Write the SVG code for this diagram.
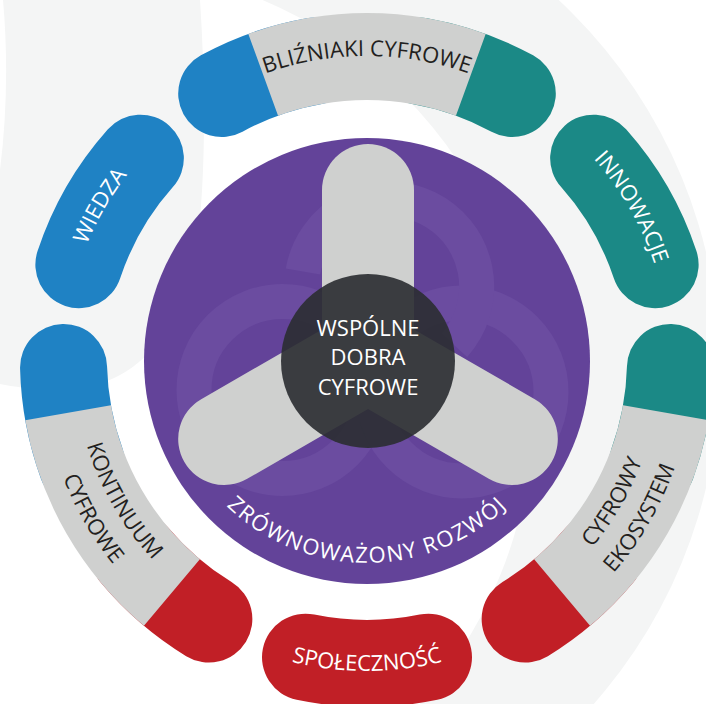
<svg xmlns="http://www.w3.org/2000/svg" width="706" height="704" viewBox="0 0 706 704">
<style>
 .seg{fill:none;stroke-width:87}
 .cap{stroke-linecap:round}
 .blue{stroke:#1f82c4}
 .teal{stroke:#1b8986}
 .red{stroke:#c11f26}
 .gray{stroke:#cfd0cf}
 .ring{fill:none;stroke:#6b4ca0;stroke-width:35}
 .arm{fill:none;stroke:#cfd0cf;stroke-width:92;stroke-linecap:round}
 text{font-family:"Open Sans","Liberation Sans",sans-serif;font-size:22px}
 .dk{fill:#231f20}
 .wh{fill:#ffffff}
</style>
<defs>
 <path id="pTop" d="M171.6,127.1 A304,304 0 0 1 562.4,127.1"/>
 <path id="pWiedza" d="M68.6,412.6 A303,303 0 0 1 263.4,75.3"/>
 <path id="pInno" d="M470.6,75.3 A303,303 0 0 1 665.4,412.6"/>
 <path id="pL1" d="M78.5,309.1 A293,293 0 0 0 266.8,635.3"/>
 <path id="pL2" d="M46.0,303.4 A326,326 0 0 0 255.5,666.3"/>
 <path id="pR1" d="M467.2,635.3 A293,293 0 0 0 655.5,309.1"/>
 <path id="pR2" d="M478.5,666.3 A326,326 0 0 0 688.0,303.4"/>
 <path id="pBot" d="M167.1,598.2 A311,311 0 0 0 566.9,598.2"/>
 <path id="pPurple" d="M168.1,396.1 A202,202 0 0 0 565.9,396.1"/>
</defs>

<g id="background">
 <rect width="706" height="704" fill="#ffffff"/>
 <circle cx="215" cy="370" r="505" fill="#f4f5f5"/>
 <circle cx="90" cy="408" r="443" fill="#ffffff"/>
 <path d="M3,0 L200,0 C206,90 206,190 195,260 C180,330 140,378 85,387 C50,392 20,388 0,384 L0,170 C7,115 8,55 3,0 Z" fill="#f4f5f5"/>
</g>

<g id="node-blizniaki">
 <path class="seg cap blue" d="M221.7,93.5 A303.5,303.5 0 0 1 314.3,61.1"/>
 <path class="seg cap teal" d="M419.7,61.1 A303.5,303.5 0 0 1 512.3,93.5"/>
 <path class="seg gray" d="M263.2,74.8 A303.5,303.5 0 0 1 470.8,74.8"/>
 <text class="dk"><textPath href="#pTop" startOffset="50%" text-anchor="middle">BLIŹNIAKI CYFROWE</textPath></text>
</g>

<g id="node-kontinuum">
 <g transform="rotate(-120 367 360)">
  <path class="seg cap red" d="M221.7,93.5 A303.5,303.5 0 0 1 314.3,61.1"/>
  <path class="seg cap blue" d="M419.7,61.1 A303.5,303.5 0 0 1 512.3,93.5"/>
  <path class="seg gray" d="M263.2,74.8 A303.5,303.5 0 0 1 470.8,74.8"/>
 </g>
 <text class="dk"><textPath href="#pL1" startOffset="50%" text-anchor="middle">KONTINUUM</textPath></text>
 <text class="dk"><textPath href="#pL2" startOffset="50%" text-anchor="middle">CYFROWE</textPath></text>
</g>

<g id="node-ekosystem">
 <g transform="rotate(120 367 360)">
  <path class="seg cap teal" d="M221.7,93.5 A303.5,303.5 0 0 1 314.3,61.1"/>
  <path class="seg cap red" d="M419.7,61.1 A303.5,303.5 0 0 1 512.3,93.5"/>
  <path class="seg gray" d="M263.2,74.8 A303.5,303.5 0 0 1 470.8,74.8"/>
 </g>
 <text class="dk"><textPath href="#pR1" startOffset="50%" text-anchor="middle">CYFROWY</textPath></text>
 <text class="dk"><textPath href="#pR2" startOffset="50%" text-anchor="middle">EKOSYSTEM</textPath></text>
</g>

<g id="node-wiedza">
 <path class="seg cap blue" transform="rotate(-60 367 360)" d="M305.5,62.8 A303.5,303.5 0 0 1 428.5,62.8"/>
 <text class="wh"><textPath href="#pWiedza" startOffset="50%" text-anchor="middle">WIEDZA</textPath></text>
</g>

<g id="node-innowacje">
 <path class="seg cap teal" transform="rotate(60 367 360)" d="M305.5,62.8 A303.5,303.5 0 0 1 428.5,62.8"/>
 <text class="wh"><textPath href="#pInno" startOffset="50%" text-anchor="middle">INNOWACJE</textPath></text>
</g>

<g id="node-spolecznosc">
 <path class="seg cap red" transform="rotate(180 367 360)" d="M305.5,62.8 A303.5,303.5 0 0 1 428.5,62.8"/>
 <text class="wh"><textPath href="#pBot" startOffset="50%" text-anchor="middle">SPOŁECZNOŚĆ</textPath></text>
</g>

<g id="node-rozwoj">
 <circle cx="367" cy="361" r="223" fill="#634399"/>
 <circle class="ring" cx="282.5" cy="390" r="88.5"/>
 <circle class="ring" cx="462" cy="392" r="89"/>
 <path class="ring" d="M303.0,271.5 A87.5,87.5 0 1 1 454.2,345.2"/>
 <text class="wh" letter-spacing="1.5"><textPath href="#pPurple" startOffset="50%" text-anchor="middle">ZRÓWNOWAŻONY ROZWÓJ</textPath></text>
</g>

<g id="connectors">
 <line class="arm" x1="368" y1="356" x2="368" y2="190"/>
 <line class="arm" x1="368" y1="356" x2="224.2" y2="439"/>
 <line class="arm" x1="368" y1="356" x2="511.8" y2="439"/>
</g>

<g id="node-wspolne">
 <circle cx="368" cy="361" r="87" fill="#2b2d31" fill-opacity="0.91"/>
 <text class="wh" x="368" y="336" text-anchor="middle" font-size="21.5">WSPÓLNE</text>
 <text class="wh" x="368" y="365" text-anchor="middle" font-size="21.5">DOBRA</text>
 <text class="wh" x="368" y="395" text-anchor="middle" font-size="21.5">CYFROWE</text>
</g>
</svg>
